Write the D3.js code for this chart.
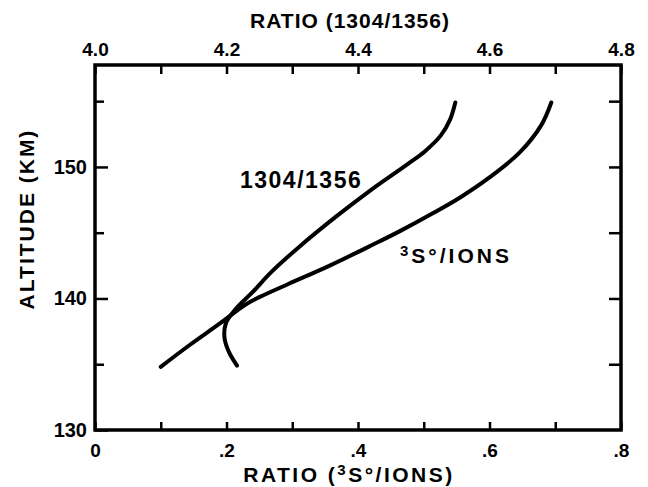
<!DOCTYPE html>
<html>
<head>
<meta charset="utf-8">
<script src="https://cdn.jsdelivr.net/npm/d3@7"></script>
<style>
  body { margin: 0; background: #fff; }
  text { font-family: "Liberation Sans", Arial, sans-serif; font-weight: bold; fill: #000; }
</style>
</head>
<body>
<script>
// 3S°/IONS ratio (bottom axis) vs altitude
const ionsRatio = [0.100, 0.145, 0.190, 0.228, 0.250, 0.294, 0.357, 0.423, 0.463, 0.511, 0.556, 0.600, 0.646, 0.679, 0.694];
const ionsAlt   = [134.8, 136.5, 138.1, 139.5, 140.1, 141.1, 142.5, 144.1, 145.1, 146.4, 147.7, 149.2, 151.1, 153.2, 154.9];

// 1304/1356 ratio (top axis) vs altitude
const oxRatio = [4.216, 4.204, 4.197, 4.199, 4.214, 4.240, 4.268, 4.310, 4.366, 4.421, 4.475, 4.502, 4.526, 4.540, 4.548];
const oxAlt   = [134.9, 135.9, 137.0, 138.1, 139.2, 140.5, 142.0, 143.9, 146.2, 148.3, 150.2, 151.2, 152.4, 153.6, 154.9];

const bottomTicks = [0, 0.1, 0.2, 0.3, 0.4, 0.5, 0.6, 0.7, 0.8];
const bottomLabels = ["0", "", ".2", "", ".4", "", ".6", "", ".8"];
const topTicks = [4.0, 4.1, 4.2, 4.3, 4.4, 4.5, 4.6, 4.7, 4.8];
const topLabels = ["4.0", "", "4.2", "", "4.4", "", "4.6", "", "4.8"];
const altTicks = [130, 135, 140, 145, 150, 155];
const altLabels = ["130", "", "140", "", "150", ""];

const width = 648;
const height = 487;
const mLeft = 95, mRight = 621, mTop = 65, mBottom = 430;

const svg = d3.select("body").append("svg")
  .attr("width", width)
  .attr("height", height);

const x = d3.scaleLinear().domain([0, 0.8]).range([mLeft, mRight]);
const xTop = d3.scaleLinear().domain([4.0, 4.8]).range([mLeft, mRight]);
const y = d3.scaleLinear().domain([130, 157.75]).range([mBottom, mTop]);

function styleAxis(g) {
  g.select(".domain").remove();
  g.selectAll(".tick line").attr("stroke", "#000").attr("stroke-width", 2.5);
  g.selectAll(".tick text").style("font-size", "19px").attr("fill", "#000");
}

svg.append("g")
  .attr("transform", `translate(0,${mBottom})`)
  .call(d3.axisBottom(x).tickValues(bottomTicks).tickSize(-8).tickPadding(14)
    .tickFormat((d, i) => bottomLabels[i]))
  .call(styleAxis);

svg.append("g")
  .attr("transform", `translate(0,${mTop})`)
  .call(d3.axisTop(xTop).tickValues(topTicks).tickSize(-9).tickPadding(9)
    .tickFormat((d, i) => topLabels[i]))
  .call(styleAxis);

const yAxisG = svg.append("g")
  .attr("transform", `translate(${mLeft},0)`)
  .call(d3.axisLeft(y).tickValues(altTicks).tickSize(-13).tickPadding(8)
    .tickFormat((d, i) => altLabels[i]))
  .call(styleAxis);
yAxisG.selectAll(".tick line").attr("x2", d => d % 10 === 0 ? 13 : 9);
yAxisG.selectAll(".tick text").style("font-size", "20px")
  .attr("dy", d => d === 130 ? "0.3em" : "0.32em");

svg.append("g")
  .attr("transform", `translate(${mRight},0)`)
  .call(d3.axisRight(y).tickValues(altTicks.slice(1)).tickSize(-12).tickFormat(""))
  .call(styleAxis);

svg.append("rect")
  .attr("x", mLeft).attr("y", mTop)
  .attr("width", mRight - mLeft).attr("height", mBottom - mTop)
  .attr("fill", "none").attr("stroke", "#000").attr("stroke-width", 3.5);

const line = d3.line().curve(d3.curveCatmullRom.alpha(0.5));

svg.append("path")
  .attr("d", line(ionsRatio.map((v, i) => [x(v), y(ionsAlt[i])])))
  .attr("fill", "none").attr("stroke", "#000").attr("stroke-width", 4).attr("stroke-linecap", "round");

svg.append("path")
  .attr("d", line(oxRatio.map((v, i) => [xTop(v), y(oxAlt[i])])))
  .attr("fill", "none").attr("stroke", "#000").attr("stroke-width", 4).attr("stroke-linecap", "round");

// curve labels
svg.append("text")
  .attr("x", 240).attr("y", 188)
  .style("font-size", "23px").style("letter-spacing", "1.5px")
  .text("1304/1356");

const ionsLabel = svg.append("text")
  .attr("x", 400).attr("y", 263)
  .style("font-size", "21px").style("letter-spacing", "3px");
ionsLabel.append("tspan").attr("dy", -7).style("font-size", "15px").text("3");
ionsLabel.append("tspan").attr("dy", 7).text("S°/IONS");

// axis titles
svg.append("text")
  .attr("x", 350).attr("y", 28)
  .attr("text-anchor", "middle")
  .style("font-size", "21px").style("letter-spacing", "1px")
  .text("RATIO (1304/1356)");

const bt = svg.append("text")
  .attr("x", 349).attr("y", 482)
  .attr("text-anchor", "middle")
  .style("font-size", "21px").style("letter-spacing", "2.5px");
bt.append("tspan").text("RATIO (");
bt.append("tspan").attr("dy", -7).style("font-size", "15px").text("3");
bt.append("tspan").attr("dy", 7).text("S°/IONS)");

svg.append("text")
  .attr("transform", "translate(34,219) rotate(-90)")
  .attr("text-anchor", "middle")
  .style("font-size", "21px").style("letter-spacing", "2px")
  .text("ALTITUDE (KM)");
</script>
</body>
</html>
